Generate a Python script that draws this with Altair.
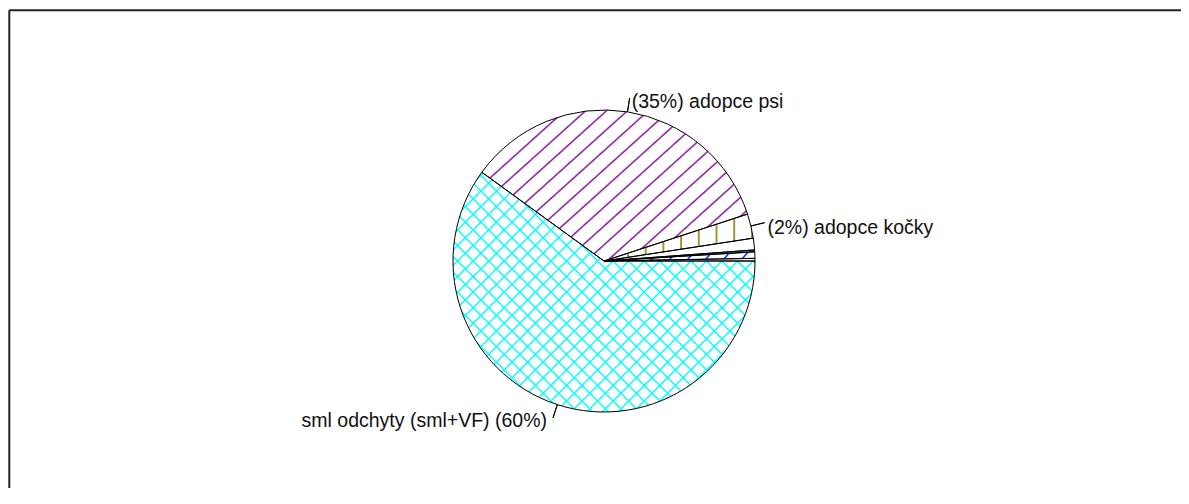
import math
import pandas as pd
import altair as alt

# ---- data, counter-clockwise from 3 o'clock ----
categories = ["jiné 1", "jiné 2", "jiné 3", "jiné 4",
              "adopce kočky", "adopce psi", "sml odchyty (sml+VF)"]
values = [0.28, 0.69, 0.20, 1.25, 2.61, 34.97, 60.00]
labels = ["", "", "", "", "(2%) adopce kočky", "(35%) adopce psi",
          "sml odchyty (sml+VF) (60%)"]

df = pd.DataFrame({"order": list(range(len(categories))),
                   "category": categories, "value": values, "label": labels})

# ---- geometry / style ----
R = 151
CX, CY = 596, 253
FONT = "Liberation Sans"
FS = 19.5
theta_scale = alt.Scale(domain=[0, 100], range=[2.5 * math.pi, 0.5 * math.pi])


def wedge_bbox(i):
    """pixel bbox (w, h) of wedge i (used only to orient hatch gradients)"""
    tot = sum(values)
    s = sum(values[:i]) / tot * 360
    e = sum(values[:i + 1]) / tot * 360
    angs = [s, e] + [k * 90 for k in range(5) if s <= k * 90 <= e]
    pts = [(0.0, 0.0)] + [(R * math.cos(math.radians(a)), -R * math.sin(math.radians(a))) for a in angs]
    xs = [p[0] for p in pts]
    ys = [p[1] for p in pts]
    return max(xs) - min(xs), max(ys) - min(ys)


def hatch(i, color, bg, kind, alpha_deg, spacing, lw=1.4, phase=0.0):
    w, h = wedge_bbox(i)
    a = math.radians(alpha_deg)
    if kind == "up":      # "/" lines
        nx, ny = math.sin(a), math.cos(a)
    elif kind == "down":  # "\" lines
        nx, ny = math.sin(a), -math.cos(a)
    else:                 # vertical
        nx, ny = 1.0, 0.0
    L = abs(nx) * w + abs(ny) * h
    k = L / (nx * nx * w * w + ny * ny * h * h)
    u0 = 0.0 if nx >= 0 else 1.0
    v0 = 0.0 if ny >= 0 else 1.0
    gx, gy = k * nx * w, k * ny * h
    stops = [(0.0, bg)]
    c = phase
    soft = 0.5
    while c - lw / 2 - soft < L:
        pts = [(c - lw / 2 - soft, bg), (c - lw / 2 + soft, color),
               (c + lw / 2 - soft, color), (c + lw / 2 + soft, bg)]
        for p, col in pts:
            o = min(1.0, max(0.0, p / L))
            if o >= stops[-1][0]:
                stops.append((o, col))
        c += spacing
    stops.append((1.0, bg))
    return alt.LinearGradient(
        gradient="linear",
        stops=[alt.GradientStop(color=col, offset=round(o, 5)) for o, col in stops],
        x1=u0, y1=v0, x2=u0 + gx, y2=v0 + gy)


base = alt.Chart(df).transform_window(
    cum="sum(value)", sort=[alt.SortField("order")], frame=[None, 0]
).transform_calculate(
    start="datum.cum - datum.value", mid="datum.cum - datum.value / 2"
)


def wedge(cat, fill):
    return base.transform_filter(alt.datum.category == cat).mark_arc(
        radius=R, fill=fill
    ).encode(
        theta=alt.Theta("start:Q", scale=theta_scale),
        theta2="cum:Q",
        x=alt.value(CX), y=alt.value(CY),
    )


W = "#ffffff"
CYAN = "#00ffff"
CYAN0 = "rgba(0,255,255,0)"
layers = [
    wedge(categories[0], W),
    wedge(categories[1], hatch(1, "#1f2fff", W, "up", 50, 13.8, lw=1.6)),
    wedge(categories[2], "#2aa5a5"),
    wedge(categories[3], W),
    wedge(categories[4], hatch(4, "#9c962c", W, "vert", 90, 17.7, lw=1.9, phase=6.3)),
    wedge(categories[5], hatch(5, "#922aa3", W, "up", 42, 14.0, lw=1.6)),
    wedge(categories[6], hatch(6, CYAN, W, "up", 45, 11.0, lw=1.4)),
    wedge(categories[6], hatch(6, CYAN, CYAN0, "down", 45, 11.0, lw=1.4)),
]

outline = base.mark_arc(radius=R, fillOpacity=0, stroke="black", strokeWidth=1).encode(
    theta=alt.Theta("start:Q", scale=theta_scale), theta2="cum:Q",
    x=alt.value(CX), y=alt.value(CY))

leaders = base.transform_filter("datum.label != ''").mark_arc(
    radius=R, radius2=165, fillOpacity=0, stroke="black", strokeWidth=1
).encode(
    theta=alt.Theta("mid:Q", scale=theta_scale), theta2="mid:Q",
    x=alt.value(CX), y=alt.value(CY))


def label(cat, align, dx, dy):
    return base.transform_filter(alt.datum.category == cat).mark_text(
        font=FONT, fontSize=FS, align=align, baseline="alphabetic",
        dx=dx, dy=dy, color="#111111"
    ).encode(
        theta=alt.Theta("mid:Q", scale=theta_scale),
        radius=alt.value(165),
        text="label:N",
        x=alt.value(CX), y=alt.value(CY))


texts = [
    label("adopce psi", "left", 2, 10),
    label("adopce kočky", "left", 3, 11),
    label("sml odchyty (sml+VF)", "right", -6, 9),
]

one = alt.Chart(pd.DataFrame({"k": [0]}))
frame_top = one.mark_rule(color="#222222", strokeWidth=2).encode(
    x=alt.value(1.3), x2=alt.value(1300), y=alt.value(2.3))
frame_left = one.mark_rule(color="#222222", strokeWidth=2).encode(
    x=alt.value(1.3), y=alt.value(2.3), y2=alt.value(700))

chart = alt.layer(*layers, outline, leaders, *texts, frame_top, frame_left).properties(
    width=1173, height=480, padding=0, autosize="none",
    background="white"
).configure_view(strokeWidth=0)

chart.save("out.html", embed_options={"renderer": "svg", "actions": False})
